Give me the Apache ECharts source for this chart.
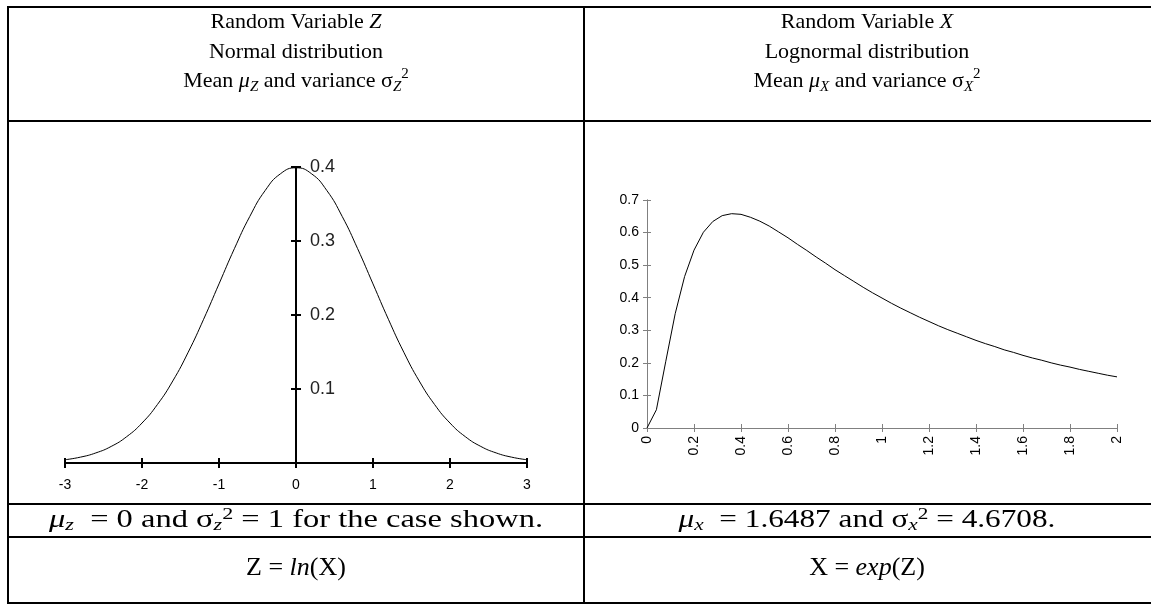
<!DOCTYPE html>
<html>
<head>
<meta charset="utf-8">
<script src="https://cdn.jsdelivr.net/npm/echarts@6/dist/echarts.min.js"></script>
<style>
html,body{margin:0;padding:0;background:#fff;}
#chart{width:1151px;height:605px;}
</style>
</head>
<body>
<div id="chart"></div>
<script>
// ---- Data ----
// Left chart: standard normal density Z
const zValues = [-3.0,-2.8,-2.6,-2.4,-2.2,-2.0,-1.8,-1.6,-1.4,-1.2,-1.0,-0.8,-0.6,-0.4,-0.2,0,0.2,0.4,0.6,0.8,1.0,1.2,1.4,1.6,1.8,2.0,2.2,2.4,2.6,2.8,3.0];
const zDensity = [0.0044,0.0079,0.0136,0.0224,0.0355,0.0540,0.0790,0.1109,0.1497,0.1942,0.2420,0.2897,0.3332,0.3683,0.3910,0.3989,0.3910,0.3683,0.3332,0.2897,0.2420,0.1942,0.1497,0.1109,0.0790,0.0540,0.0355,0.0224,0.0136,0.0079,0.0044];
const zTicks = [-3,-2,-1,0,1,2,3];
const zDensityTicks = ['0','0.1','0.2','0.3','0.4'];

// Right chart: lognormal density X
const xValues = [0,0.04,0.08,0.12,0.16,0.2,0.24,0.28,0.32,0.36,0.4,0.44,0.48,0.52,0.56,0.6,0.64,0.68,0.72,0.76,0.8,0.84,0.88,0.92,0.96,1.0,1.04,1.08,1.12,1.16,1.2,1.24,1.28,1.32,1.36,1.4,1.44,1.48,1.52,1.56,1.6,1.64,1.68,1.72,1.76,1.8,1.84,1.88,1.92,1.96,2.0];
const xDensity = [0,0.056,0.205,0.351,0.465,0.546,0.601,0.634,0.652,0.658,0.656,0.647,0.635,0.620,0.602,0.584,0.564,0.545,0.525,0.506,0.486,0.468,0.450,0.432,0.415,0.399,0.383,0.368,0.354,0.340,0.327,0.314,0.302,0.291,0.280,0.269,0.259,0.250,0.240,0.232,0.223,0.215,0.208,0.200,0.193,0.187,0.180,0.174,0.168,0.162,0.157];
const xTicks = ['0','0.2','0.4','0.6','0.8','1','1.2','1.4','1.6','1.8','2'];
const xDensityTicks = ['0','0.1','0.2','0.3','0.4','0.5','0.6','0.7'];

// Table texts
const headerLeft = ['Random Variable {i|Z}', 'Normal distribution', 'Mean {i|μ}{sub|Z} and variance σ{sub|Z}{sup|2}'];
const headerRight = ['Random Variable {i|X}', 'Lognormal distribution', 'Mean {i|μ}{sub|X} and variance σ{sub|X}{sup|2}'];
const noteLeft = '{mi|μ}{msub|z}  = 0 and σ{msub|z}{msup|2} = 1 for the case shown.';
const noteRight = '{mi|μ}{msub|x}  = 1.6487 and σ{msub|x}{msup|2} = 4.6708.';
const formulaLeft = 'Z = {fi|ln}(X)';
const formulaRight = 'X = {fi|exp}(Z)';

// ---- Layout ----
const SERIF = 'Liberation Serif';
const SANS = 'Liberation Sans';
function richSet(fs, lh, ss) {
  return {
    i: {fontStyle: 'italic', fontFamily: SERIF, fontSize: fs, lineHeight: lh, verticalAlign: 'middle'},
    sub: {fontStyle: 'italic', fontFamily: SERIF, fontSize: ss, lineHeight: ss, verticalAlign: 'bottom'},
    sup: {fontFamily: SERIF, fontSize: ss, lineHeight: ss, verticalAlign: 'top'}
  };
}
const richH = richSet(22, 28, 15);
const richM = richSet(25, 28, 17);
const richF = richSet(26, 30, 16);
const rich = {
  i: richH.i, sub: richH.sub, sup: richH.sup,
  mi: richM.i, msub: richM.sub, msup: richM.sup,
  fi: richF.i
};
function txt(str, x, y, fs, lh, sx) {
  return {
    type: 'text', x: x, y: y, scaleX: sx || 1, silent: true,
    style: {
      text: str, fontFamily: SERIF, fontSize: fs, lineHeight: lh,
      fill: '#000', align: 'center', verticalAlign: 'middle', rich: rich
    }
  };
}
function ln(x1, y1, x2, y2) {
  return {type: 'line', silent: true, shape: {x1, y1, x2, y2}, style: {stroke: '#000', lineWidth: 2}};
}
const colL = 296, colR = 867;
const graphics = [
  ln(7, 7, 1151, 7), ln(8, 6, 8, 604), ln(584, 6, 584, 604),
  ln(7, 121, 1151, 121), ln(7, 504, 1151, 504), ln(7, 537, 1151, 537), ln(7, 603, 1151, 603)
];
[22, 52, 81].forEach((y, k) => { graphics.push(txt(headerLeft[k], colL, y, 22, 28)); graphics.push(txt(headerRight[k], colR, y, 22, 28)); });
graphics.push(txt(noteLeft, colL, 520, 25, 28, 1.3), txt(noteRight, colR, 520, 25, 28, 1.25));
graphics.push(txt(formulaLeft, colL, 568, 26, 30), txt(formulaRight, colR, 568, 26, 30));

const gridL = {left: 65, top: 167, width: 462, height: 296};
const gridLY = {left: 296, top: 167, width: 231, height: 296};
const gridR = {left: 647, top: 200, width: 470, height: 228};

function fmt(v) { return String(Math.round(v * 100) / 100); }
const hiddenX = (g) => ({gridIndex: g, type: 'value', min: 0, max: 3, show: false});

const option = {
  animation: false,
  backgroundColor: '#fff',
  grid: [gridL, gridL, gridLY, gridLY, gridR, gridR].map(g => Object.assign({}, g)),
  xAxis: [
    {gridIndex: 0, type: 'value', min: zTicks[0], max: zTicks[zTicks.length - 1], interval: 1,
     axisLine: {onZero: false, lineStyle: {color: '#000', width: 2}},
     axisTick: {length: 5, lineStyle: {color: '#000', width: 2}},
     axisLabel: {color: '#000', fontFamily: SANS, fontSize: 14, margin: 15, formatter: fmt},
     splitLine: {show: false}},
    {gridIndex: 1, type: 'value', min: zTicks[0], max: zTicks[zTicks.length - 1], interval: 1,
     axisLine: {onZero: false, lineStyle: {color: '#000', width: 2}},
     axisTick: {inside: true, length: 5, lineStyle: {color: '#000', width: 2}},
     axisLabel: {show: false}, splitLine: {show: false}},
    hiddenX(2), hiddenX(3),
    {gridIndex: 4, type: 'value', min: 0, max: 2, interval: 0.2,
     axisLine: {onZero: false, lineStyle: {color: '#808080', width: 1}},
     axisTick: {length: 4, lineStyle: {color: '#808080'}},
     axisLabel: {color: '#000', fontFamily: SANS, fontSize: 14, margin: 8, rotate: 90,
                 formatter: (v) => xTicks[Math.round(v / 0.2)]},
     splitLine: {show: false}},
    {gridIndex: 5, type: 'value', min: 0, max: 2, interval: 0.2,
     axisLine: {onZero: false, lineStyle: {color: '#808080', width: 1}},
     axisTick: {inside: true, length: 4, lineStyle: {color: '#808080'}},
     axisLabel: {show: false}, splitLine: {show: false}}
  ],
  yAxis: [
    {gridIndex: 0, type: 'value', min: 0, max: 0.4, show: false},
    {gridIndex: 1, type: 'value', min: 0, max: 0.4, show: false},
    {gridIndex: 2, type: 'value', min: 0, max: 0.4, interval: 0.1,
     axisLine: {show: true, onZero: false, lineStyle: {color: '#000', width: 2}},
     axisTick: {show: true, length: 5, lineStyle: {color: '#000', width: 2}},
     axisLabel: {inside: true, color: '#222', fontFamily: SANS, fontSize: 18, margin: 14,
                 formatter: (v) => v === 0 ? '' : zDensityTicks[Math.round(v * 10)]},
     splitLine: {show: false}},
    {gridIndex: 3, type: 'value', min: 0, max: 0.4, interval: 0.1,
     axisLine: {show: true, onZero: false, lineStyle: {color: '#000', width: 2}},
     axisTick: {show: true, inside: true, length: 5, lineStyle: {color: '#000', width: 2}},
     axisLabel: {show: false}, splitLine: {show: false}},
    {gridIndex: 4, type: 'value', min: 0, max: 0.7, interval: 0.1,
     axisLine: {show: true, onZero: false, lineStyle: {color: '#808080', width: 1}},
     axisTick: {show: true, length: 4, lineStyle: {color: '#808080'}},
     axisLabel: {color: '#000', fontFamily: SANS, fontSize: 14, margin: 8,
                 formatter: (v) => xDensityTicks[Math.round(v * 10)]},
     splitLine: {show: false}},
    {gridIndex: 5, type: 'value', min: 0, max: 0.7, interval: 0.1,
     axisLine: {show: true, onZero: false, lineStyle: {color: '#808080', width: 1}},
     axisTick: {show: true, inside: true, length: 4, lineStyle: {color: '#808080'}},
     axisLabel: {show: false}, splitLine: {show: false}}
  ],
  series: [
    {type: 'line', xAxisIndex: 0, yAxisIndex: 0, smooth: true, showSymbol: false, silent: true,
     lineStyle: {color: '#000', width: 1}, data: zValues.map((z, k) => [z, zDensity[k]])},
    {type: 'line', xAxisIndex: 4, yAxisIndex: 4, smooth: false, showSymbol: false, silent: true,
     lineStyle: {color: '#000', width: 1}, data: xValues.map((x, k) => [x, xDensity[k]])}
  ],
  graphic: graphics
};
const chart = echarts.init(document.getElementById('chart'), null, {renderer: 'canvas'});
chart.setOption(option);
</script>
</body>
</html>
